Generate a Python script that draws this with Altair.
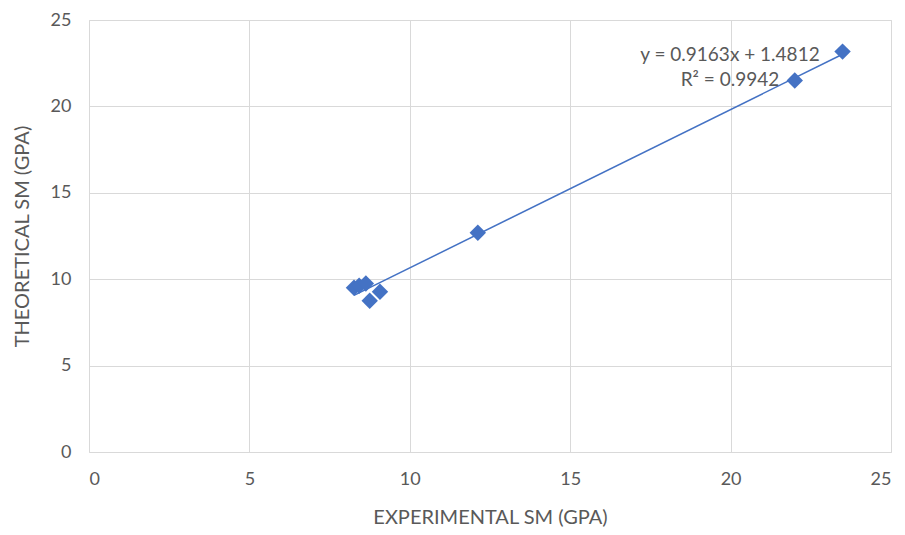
import altair as alt
import pandas as pd

exp_sm = [8.26, 8.42, 8.63, 8.75, 9.07, 12.12, 22.0, 23.49]
theo_sm = [9.50, 9.62, 9.75, 8.75, 9.27, 12.69, 21.5, 23.17]

ann_x = [19.98, 19.98]
ann_y = [23.0, 21.5]
ann_text = ["y = 0.9163x + 1.4812", "R² = 0.9942"]

df = pd.DataFrame({"x": exp_sm, "y": theo_sm})
ann = pd.DataFrame({"x": ann_x, "y": ann_y, "t": ann_text})

FONT = "Lato"
GRAY = "#595959"
BLUE = "#4472C4"

xs = alt.Scale(domain=[0, 25], nice=False, zero=True)
ys = alt.Scale(domain=[0, 25], nice=False, zero=True)

xax = alt.Axis(values=[0, 5, 10, 15, 20, 25], title="EXPERIMENTAL SM (GPA)",
               grid=True, gridColor="#d9d9d9", domain=False, ticks=False,
               labelFont=FONT, labelFontSize=18, labelColor=GRAY, labelPadding=18,
               titleFont=FONT, titleFontSize=20, titleColor=GRAY, titleFontWeight="normal",
               titlePadding=19)
yax = alt.Axis(values=[0, 5, 10, 15, 20, 25], title="THEORETICAL SM (GPA)",
               grid=True, gridColor="#d9d9d9", domain=False, ticks=False,
               labelFont=FONT, labelFontSize=18, labelColor=GRAY, labelPadding=18,
               titleFont=FONT, titleFontSize=20, titleColor=GRAY, titleFontWeight="normal",
               titlePadding=18)

base = alt.Chart(df)

points = base.mark_point(shape="diamond", filled=True, size=270, color=BLUE, opacity=1).encode(
    x=alt.X("x:Q", scale=xs, axis=xax),
    y=alt.Y("y:Q", scale=ys, axis=yax),
)

trend = base.transform_regression("x", "y").mark_line(color=BLUE, strokeWidth=1.5).encode(
    x=alt.X("x:Q", scale=xs),
    y=alt.Y("y:Q", scale=ys),
)

labels = alt.Chart(ann).mark_text(align="center", baseline="middle", font=FONT,
                                   fontSize=19, color=GRAY).encode(
    x=alt.X("x:Q", scale=xs),
    y=alt.Y("y:Q", scale=ys),
    text="t:N",
)

chart = alt.layer(trend, points, labels).properties(
    width=802, height=432,
    autosize=alt.AutoSizeParams(type="none"),
    padding={"left": 89, "top": 20, "right": 14, "bottom": 83},
).configure_view(stroke=None).configure(background="white")

chart.save("out.html", embed_options={"renderer": "svg", "actions": False})
